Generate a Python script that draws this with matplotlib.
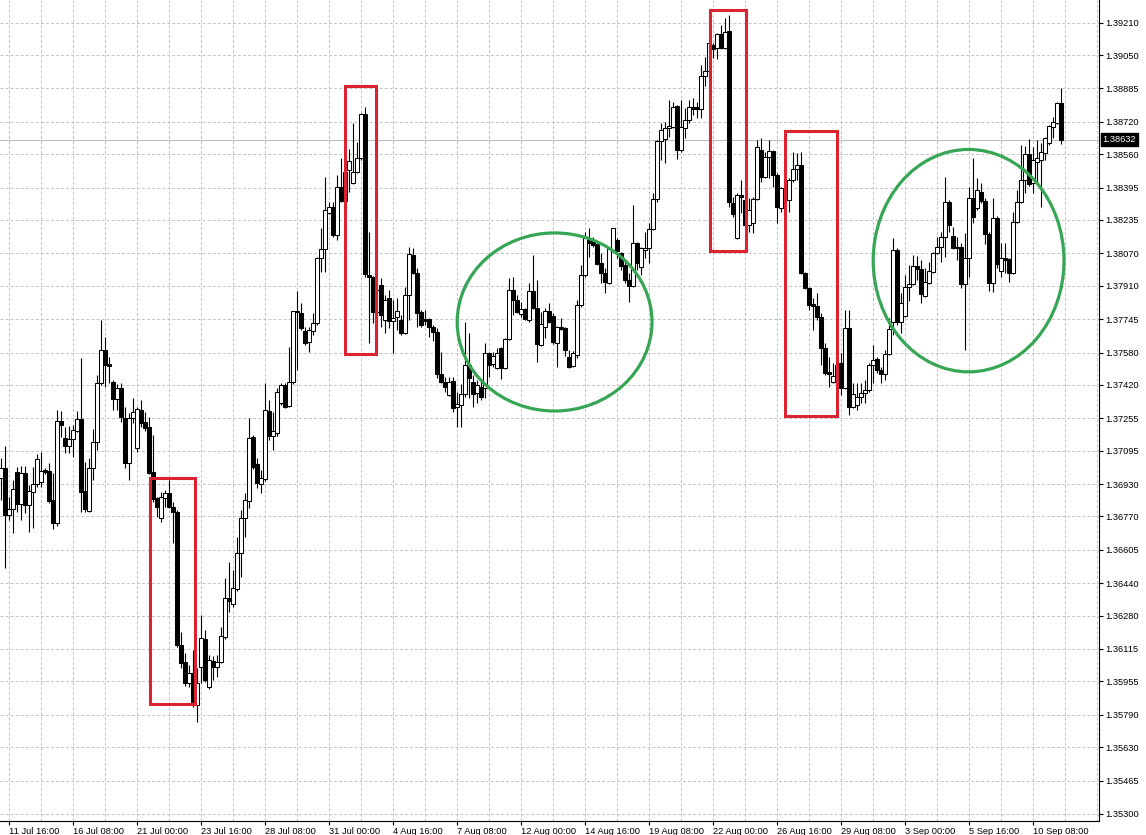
import matplotlib
matplotlib.use("Agg")
import matplotlib.pyplot as plt
from matplotlib.patches import Rectangle, Ellipse
import numpy as np

# ---------------- data (H4 candles) ----------------
open_prices = [
    1.36960, 1.37009, 1.36777, 1.36808, 1.36990, 1.36832, 1.36985, 1.36827, 1.36891, 1.36930,
    1.36940, 1.37000, 1.36995, 1.36852, 1.36738, 1.37242, 1.37157, 1.37118, 1.37153, 1.37192,
    1.37253, 1.36896, 1.36797, 1.37009, 1.37138, 1.37429, 1.37593, 1.37523, 1.37434, 1.37351,
    1.37404, 1.37257, 1.37034, 1.37257, 1.37108, 1.37297, 1.37237, 1.37212, 1.36990, 1.36862,
    1.36762, 1.36862, 1.36886, 1.36817, 1.36792, 1.36135, 1.36051, 1.35947, 1.35997, 1.35838,
    1.36026, 1.36164, 1.35927, 1.36056, 1.36026, 1.36051, 1.36174, 1.36367, 1.36337, 1.36412,
    1.36590, 1.36763, 1.36847, 1.37162, 1.37029, 1.36930, 1.36955, 1.37292, 1.37167, 1.37182,
    1.37331, 1.37419, 1.37316, 1.37434, 1.37785, 1.37775, 1.37687, 1.37632, 1.37687, 1.37726,
    1.38047, 1.38092, 1.38269, 1.38299, 1.38161, 1.38398, 1.38329, 1.38482, 1.38418, 1.38472,
    1.38542, 1.38759, 1.37963, 1.37953, 1.37780, 1.37914, 1.37741, 1.37850, 1.37736, 1.37756,
    1.37741, 1.37677, 1.37864, 1.38062, 1.37973, 1.37780, 1.37746, 1.37746, 1.37707, 1.37682,
    1.37474, 1.37434, 1.37370, 1.37439, 1.37311, 1.37321, 1.37375, 1.37518, 1.37434, 1.37380,
    1.37409, 1.37404, 1.37578, 1.37523, 1.37503, 1.37603, 1.37503, 1.37647, 1.37889, 1.37840,
    1.37770, 1.37795, 1.37741, 1.37884, 1.37800, 1.37617, 1.37707, 1.37785, 1.37761, 1.37627,
    1.37707, 1.37702, 1.37558, 1.37513, 1.37568, 1.37815, 1.37963, 1.38146, 1.38136, 1.38116,
    1.38022, 1.37973, 1.37924, 1.38087, 1.38136, 1.38072, 1.38012, 1.37939, 1.37909, 1.38121,
    1.38003, 1.38087, 1.38096, 1.38190, 1.38339, 1.38625, 1.38635, 1.38690, 1.38694, 1.38798,
    1.38581, 1.38690, 1.38729, 1.38793, 1.38793, 1.38783, 1.38946, 1.38971, 1.39099, 1.39085,
    1.39154, 1.39085, 1.39169, 1.38319, 1.38146, 1.38359, 1.38334, 1.38210, 1.38220, 1.38339,
    1.38581, 1.38447, 1.38547, 1.38576, 1.38457, 1.38294, 1.38393, 1.38334, 1.38433, 1.38487,
    1.38507, 1.37973, 1.37899, 1.37820, 1.37810, 1.37756, 1.37603, 1.37484, 1.37434, 1.37464,
    1.37528, 1.37404, 1.37702, 1.37311, 1.37321, 1.37360, 1.37380, 1.37395, 1.37518, 1.37548,
    1.37494, 1.37474, 1.37573, 1.37731, 1.38087, 1.37731, 1.37761, 1.37904, 1.37919, 1.38007,
    1.37993, 1.37859, 1.37924, 1.37978, 1.38072, 1.38101, 1.38151, 1.38324, 1.38156, 1.38101,
    1.38101, 1.37919, 1.38047, 1.38344, 1.38294, 1.38374, 1.38329, 1.38166, 1.37924, 1.38245,
    1.37983, 1.38047, 1.38042, 1.37973, 1.38225, 1.38324, 1.38433, 1.38562, 1.38418, 1.38522,
    1.38532, 1.38566, 1.38616, 1.38694, 1.38714, 1.38813,
]
high_prices = [
    1.37059, 1.37118, 1.36866, 1.36950, 1.37014, 1.37019, 1.37019, 1.36925, 1.37014, 1.37079,
    1.37089, 1.37009, 1.37034, 1.36985, 1.37297, 1.37292, 1.37212, 1.37217, 1.37222, 1.37292,
    1.37553, 1.37039, 1.37059, 1.37203, 1.37469, 1.37741, 1.37657, 1.37558, 1.37444, 1.37424,
    1.37429, 1.37311, 1.37282, 1.37355, 1.37311, 1.37346, 1.37287, 1.37262, 1.37172, 1.36866,
    1.36891, 1.36901, 1.36950, 1.36842, 1.36802, 1.36199, 1.36095, 1.36036, 1.36110, 1.36021,
    1.36283, 1.36209, 1.36085, 1.36080, 1.36085, 1.36224, 1.36466, 1.36545, 1.36506, 1.36668,
    1.36802, 1.36886, 1.37257, 1.37172, 1.37059, 1.37000, 1.37429, 1.37346, 1.37287, 1.37404,
    1.37429, 1.37429, 1.37607, 1.37785, 1.37884, 1.37825, 1.37707, 1.37707, 1.37775, 1.38052,
    1.38195, 1.38447, 1.38324, 1.38324, 1.38457, 1.38541, 1.38507, 1.38586, 1.38714, 1.38620,
    1.38764, 1.38793, 1.38176, 1.37958, 1.37914, 1.37949, 1.37864, 1.37889, 1.37840, 1.37850,
    1.37765, 1.37904, 1.38101, 1.38096, 1.37998, 1.37790, 1.37790, 1.37751, 1.37716, 1.37702,
    1.37583, 1.37459, 1.37459, 1.37459, 1.37385, 1.37424, 1.37731, 1.37677, 1.37469, 1.37444,
    1.37444, 1.37627, 1.37583, 1.37583, 1.37603, 1.37607, 1.37652, 1.37949, 1.37953, 1.37864,
    1.37830, 1.37800, 1.37924, 1.38062, 1.37939, 1.37780, 1.37800, 1.37825, 1.37775, 1.37711,
    1.37751, 1.37707, 1.37593, 1.37588, 1.37840, 1.38012, 1.38176, 1.38195, 1.38151, 1.38121,
    1.38072, 1.37998, 1.38101, 1.38195, 1.38146, 1.38077, 1.38027, 1.37973, 1.38309, 1.38126,
    1.38101, 1.38176, 1.38220, 1.38369, 1.38630, 1.38714, 1.38719, 1.38828, 1.38818, 1.38803,
    1.38828, 1.38788, 1.38828, 1.38838, 1.38818, 1.39001, 1.39040, 1.39114, 1.39109, 1.39159,
    1.39198, 1.39233, 1.39248, 1.38349, 1.38369, 1.38433, 1.38359, 1.38344, 1.38349, 1.38630,
    1.38640, 1.38571, 1.38630, 1.38581, 1.38467, 1.38398, 1.38423, 1.38443, 1.38571, 1.38566,
    1.38571, 1.37978, 1.37904, 1.37850, 1.37874, 1.37775, 1.37627, 1.37558, 1.37528, 1.37543,
    1.37578, 1.37790, 1.37790, 1.37429, 1.37429, 1.37429, 1.37444, 1.37528, 1.37617, 1.37558,
    1.37508, 1.37593, 1.37751, 1.38146, 1.38096, 1.37874, 1.37963, 1.38012, 1.38062, 1.38057,
    1.38037, 1.37998, 1.38027, 1.38077, 1.38151, 1.38176, 1.38447, 1.38334, 1.38200, 1.38151,
    1.38121, 1.38171, 1.38398, 1.38542, 1.38443, 1.38418, 1.38344, 1.38176, 1.38344, 1.38255,
    1.38121, 1.38121, 1.38047, 1.38274, 1.38384, 1.38606, 1.38601, 1.38635, 1.38596, 1.38630,
    1.38616, 1.38645, 1.38704, 1.38744, 1.38818, 1.38887,
]
low_prices = [
    1.36852, 1.36515, 1.36753, 1.36688, 1.36792, 1.36753, 1.36787, 1.36693, 1.36713, 1.36915,
    1.36915, 1.36980, 1.36837, 1.36709, 1.36723, 1.37162, 1.37084, 1.37084, 1.37064, 1.37187,
    1.36792, 1.36792, 1.36792, 1.36950, 1.37099, 1.37419, 1.37409, 1.37429, 1.37297, 1.37297,
    1.37237, 1.37009, 1.36950, 1.37232, 1.37089, 1.37212, 1.37192, 1.36980, 1.36842, 1.36767,
    1.36743, 1.36817, 1.36812, 1.36639, 1.36125, 1.36021, 1.35932, 1.35927, 1.35828, 1.35755,
    1.35947, 1.35952, 1.35917, 1.35962, 1.35977, 1.36046, 1.36164, 1.36298, 1.36323, 1.36402,
    1.36471, 1.36668, 1.36812, 1.37005, 1.36911, 1.36886, 1.36945, 1.37148, 1.37099, 1.37167,
    1.37321, 1.37306, 1.37311, 1.37424, 1.37494, 1.37692, 1.37617, 1.37583, 1.37667, 1.37716,
    1.37978, 1.37978, 1.38264, 1.38151, 1.38136, 1.38324, 1.38309, 1.38374, 1.38413, 1.38467,
    1.38532, 1.37953, 1.37627, 1.37726, 1.37741, 1.37707, 1.37677, 1.37702, 1.37578, 1.37692,
    1.37667, 1.37672, 1.37741, 1.37968, 1.37707, 1.37707, 1.37716, 1.37657, 1.37637, 1.37454,
    1.37429, 1.37385, 1.37365, 1.37287, 1.37212, 1.37212, 1.37360, 1.37355, 1.37311, 1.37331,
    1.37346, 1.37355, 1.37459, 1.37508, 1.37498, 1.37449, 1.37498, 1.37642, 1.37765, 1.37775,
    1.37756, 1.37741, 1.37731, 1.37795, 1.37533, 1.37612, 1.37652, 1.37726, 1.37622, 1.37508,
    1.37692, 1.37563, 1.37503, 1.37508, 1.37553, 1.37805, 1.37953, 1.38052, 1.38101, 1.38012,
    1.37924, 1.37874, 1.37919, 1.38077, 1.38047, 1.37988, 1.37924, 1.37830, 1.37904, 1.37988,
    1.37963, 1.38047, 1.38022, 1.38186, 1.38324, 1.38532, 1.38517, 1.38645, 1.38690, 1.38537,
    1.38571, 1.38640, 1.38714, 1.38754, 1.38739, 1.38739, 1.38897, 1.38936, 1.39035, 1.39030,
    1.39080, 1.39080, 1.38299, 1.38250, 1.38141, 1.38269, 1.38186, 1.38176, 1.38171, 1.38334,
    1.38423, 1.38443, 1.38443, 1.38398, 1.38220, 1.38274, 1.38284, 1.38274, 1.38423, 1.38433,
    1.37968, 1.37894, 1.37790, 1.37692, 1.37741, 1.37518, 1.37469, 1.37409, 1.37429, 1.37385,
    1.37370, 1.37399, 1.37272, 1.37306, 1.37297, 1.37331, 1.37331, 1.37385, 1.37429, 1.37479,
    1.37429, 1.37444, 1.37568, 1.37667, 1.37716, 1.37677, 1.37756, 1.37835, 1.37914, 1.37939,
    1.37825, 1.37854, 1.37919, 1.37973, 1.38067, 1.38027, 1.38052, 1.38176, 1.38092, 1.38037,
    1.37899, 1.37593, 1.37953, 1.38220, 1.38284, 1.38319, 1.38116, 1.37884, 1.37879, 1.37998,
    1.37953, 1.37973, 1.37929, 1.37968, 1.38220, 1.38319, 1.38369, 1.38403, 1.38369, 1.38408,
    1.38299, 1.38532, 1.38606, 1.38640, 1.38709, 1.38611,
]
close_prices = [
    1.37009, 1.36777, 1.36808, 1.36906, 1.36832, 1.36985, 1.36827, 1.36896, 1.36930, 1.37055,
    1.36995, 1.36990, 1.36847, 1.36738, 1.37242, 1.37222, 1.37118, 1.37153, 1.37197, 1.37253,
    1.36891, 1.36808, 1.37009, 1.37138, 1.37429, 1.37593, 1.37518, 1.37513, 1.37351, 1.37404,
    1.37262, 1.37034, 1.37257, 1.37287, 1.37302, 1.37232, 1.37207, 1.36985, 1.36857, 1.36817,
    1.36866, 1.36886, 1.36817, 1.36792, 1.36135, 1.36046, 1.35947, 1.35997, 1.35838, 1.35947,
    1.36169, 1.35962, 1.36061, 1.36026, 1.36051, 1.36179, 1.36367, 1.36352, 1.36416, 1.36590,
    1.36763, 1.36852, 1.37157, 1.37014, 1.36935, 1.36960, 1.37297, 1.37167, 1.37192, 1.37385,
    1.37419, 1.37311, 1.37434, 1.37785, 1.37780, 1.37702, 1.37627, 1.37692, 1.37726, 1.38047,
    1.38092, 1.38284, 1.38299, 1.38161, 1.38398, 1.38329, 1.38472, 1.38527, 1.38472, 1.38542,
    1.38759, 1.37968, 1.37953, 1.37780, 1.37889, 1.37765, 1.37840, 1.37736, 1.37751, 1.37785,
    1.37677, 1.37864, 1.38067, 1.37973, 1.37775, 1.37716, 1.37736, 1.37707, 1.37682, 1.37474,
    1.37434, 1.37409, 1.37434, 1.37306, 1.37326, 1.37375, 1.37518, 1.37454, 1.37375, 1.37419,
    1.37360, 1.37578, 1.37518, 1.37563, 1.37578, 1.37503, 1.37647, 1.37889, 1.37840, 1.37780,
    1.37795, 1.37746, 1.37884, 1.37800, 1.37622, 1.37721, 1.37785, 1.37731, 1.37632, 1.37707,
    1.37697, 1.37593, 1.37508, 1.37578, 1.37815, 1.37963, 1.38146, 1.38121, 1.38111, 1.38017,
    1.37973, 1.37929, 1.38092, 1.38195, 1.38082, 1.38007, 1.37939, 1.37909, 1.38121, 1.38022,
    1.38096, 1.38096, 1.38190, 1.38339, 1.38625, 1.38680, 1.38690, 1.38699, 1.38793, 1.38581,
    1.38694, 1.38729, 1.38793, 1.38783, 1.38783, 1.38946, 1.38971, 1.39109, 1.39080, 1.39154,
    1.39085, 1.39164, 1.38324, 1.38264, 1.38359, 1.38349, 1.38210, 1.38284, 1.38339, 1.38596,
    1.38447, 1.38547, 1.38576, 1.38457, 1.38299, 1.38393, 1.38334, 1.38433, 1.38487, 1.38507,
    1.37973, 1.37899, 1.37815, 1.37810, 1.37756, 1.37603, 1.37479, 1.37474, 1.37464, 1.37518,
    1.37404, 1.37702, 1.37311, 1.37375, 1.37360, 1.37380, 1.37395, 1.37518, 1.37543, 1.37494,
    1.37474, 1.37573, 1.37697, 1.38087, 1.37731, 1.37825, 1.37904, 1.37919, 1.38007, 1.37993,
    1.37869, 1.37929, 1.37983, 1.38072, 1.38101, 1.38151, 1.38324, 1.38210, 1.38096, 1.38096,
    1.37919, 1.38047, 1.38344, 1.38250, 1.38384, 1.38329, 1.38166, 1.37924, 1.38245, 1.38017,
    1.38047, 1.38037, 1.37973, 1.38225, 1.38324, 1.38433, 1.38562, 1.38413, 1.38532, 1.38542,
    1.38571, 1.38640, 1.38699, 1.38719, 1.38813, 1.38632,
]

time_labels = ["11 Jul 16:00", "16 Jul 08:00", "21 Jul 00:00", "23 Jul 16:00",
               "28 Jul 08:00", "31 Jul 00:00", "4 Aug 16:00", "7 Aug 08:00",
               "12 Aug 00:00", "14 Aug 16:00", "19 Aug 08:00", "22 Aug 00:00",
               "26 Aug 16:00", "29 Aug 08:00", "3 Sep 00:00", "5 Sep 16:00",
               "10 Sep 08:00"]
price_labels = ["1.39210", "1.39050", "1.38885", "1.38720", "1.38560", "1.38395",
                "1.38235", "1.38070", "1.37910", "1.37745", "1.37580", "1.37420",
                "1.37255", "1.37095", "1.36930", "1.36770", "1.36605", "1.36440",
                "1.36280", "1.36115", "1.35955", "1.35790", "1.35630", "1.35465",
                "1.35300"]
last_price = 1.38632

# ---------------- figure ----------------
W, H = 1146, 835
fig = plt.figure(figsize=(W / 100, H / 100), dpi=100)
fig.patch.set_facecolor("white")
ax = fig.add_axes([0, (H - 821) / H, 1099 / W, 821 / H])
ax.set_facecolor("white")

FONT = "Liberation Sans"
FS = 6.7
GRID_C = "#c3c3c3"

o = np.array(open_prices)
h = np.array(high_prices)
l = np.array(low_prices)
c = np.array(close_prices)
x = np.arange(len(c))

ax.set_xlim(-0.25, 274.5)
ax.set_ylim(1.35265, 1.39322)

# grid
for p in price_labels:
    ax.axhline(float(p), color=GRID_C, lw=0.7, ls=(0, (3, 2.2)), zorder=0)
for gx in np.arange(2, 275, 8):
    ax.axvline(gx, color=GRID_C, lw=0.7, ls=(0, (3, 2.2)), zorder=0)

# bid line
ax.axhline(last_price, color="#bdbdbd", lw=0.8, zorder=1)

# candles
up = c > o
body_lo = np.minimum(o, c)
body_h = np.maximum(np.abs(c - o), 0.000015)
ax.vlines(x, np.minimum(l, body_lo), np.maximum(h, body_lo + body_h),
          color="black", lw=0.8, zorder=2)
ax.bar(x, body_h, bottom=body_lo, width=0.78,
       color=np.where(up, "white", "black"), edgecolor="black",
       linewidth=0.75, zorder=3)

# annotations
RED = "#dc2332"
GREEN = "#36a655"
rects = [(37.25, 1.35843, 48.6, 1.36962),
         (86.0, 1.37573, 93.83, 1.38899),
         (177.2, 1.38082, 186.2, 1.39273),
         (196.1, 1.37268, 208.9, 1.38676)]
for x0, y0, x1, y1 in rects:
    ax.add_patch(Rectangle((x0, y0), x1 - x0, y1 - y0, fill=False,
                           edgecolor=RED, lw=2.2, zorder=5))
ellipses = [(138.4, 1.37731, 48.7, 0.00880),
            (241.9, 1.38034, 47.7, 0.01099)]
for cx, cy, ew, eh in ellipses:
    ax.add_patch(Ellipse((cx, cy), ew, eh, fill=False, edgecolor=GREEN,
                         lw=2.3, zorder=5))

# axes styling
for s in ["top", "left"]:
    ax.spines[s].set_visible(False)
for s in ["bottom", "right"]:
    ax.spines[s].set_color("black")
    ax.spines[s].set_linewidth(0.8)

ax.yaxis.tick_right()
ax.set_yticks([float(p) for p in price_labels])
ax.set_yticklabels(price_labels, fontsize=FS, family=FONT)
ax.tick_params(axis="y", length=3, width=0.8, pad=1.5, colors="black")

ax.set_xticks(np.arange(2, 2 + 16 * len(time_labels), 16))
ax.set_xticklabels(time_labels, fontsize=FS, family=FONT)
for lab in ax.get_xticklabels():
    lab.set_ha("left")
ax.tick_params(axis="x", length=3, width=0.8, pad=1.0, colors="black")

# current price label
ax.annotate(f"{last_price:.5f}", xy=(1, last_price),
            xycoords=ax.get_yaxis_transform(), xytext=(2.6, 0),
            textcoords="offset points", ha="left", va="center",
            color="white", fontsize=FS, family=FONT, zorder=10,
            annotation_clip=False,
            bbox=dict(boxstyle="square,pad=0.2", fc="black", ec="black"))

fig.savefig("out.png", dpi=100, facecolor="white")
